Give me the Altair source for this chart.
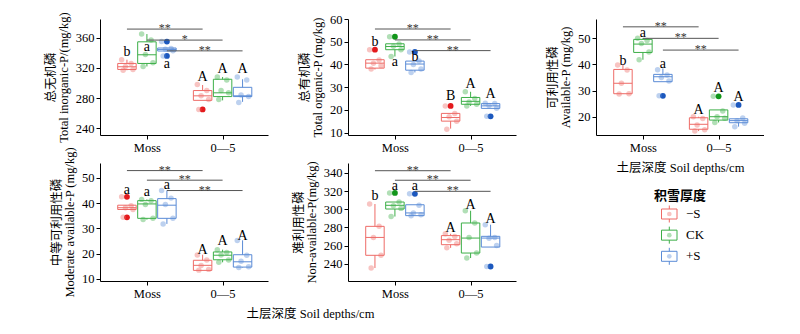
import altair as alt
import pandas as pd

GROUPS = ["−S", "CK", "+S"]
DEPTHS = ["Moss", "0—5"]
BOX_COLORS = ["#EE6B67", "#3DAF48", "#5A8BD6"]
OUT_COLORS = ["#E3191C", "#11961A", "#1C58BE"]
SERIF = "Liberation Serif, Noto Sans CJK SC"
X_TITLE = "土层深度 Soil depths/cm"
LEGEND_TITLE = "积雪厚度"

# cell order: Moss(−S, CK, +S), 0—5(−S, CK, +S)
# ---- Panel 1: total inorganic P
TIP_POINTS = [[331, 326, 322, 318, 317], [365, 357, 338, 327, 322], [355, 346, 345, 343, 336],
              [298, 290, 283, 278, 265], [308, 304, 290, 287, 278], [308, 304, 284, 282, 274]]
TIP_Q1 = [318, 326, 342.5, 277, 282, 282]
TIP_MED = [321.6, 337.5, 344.6, 283, 287, 283]
TIP_Q3 = [326, 354.7, 346.5, 290, 305, 294.3]
TIP_LO = [317, 322, 342.5, 277, 277, 275]
TIP_HI = [331, 365, 346.5, 297.4, 308, 305]
TIP_OUT = [[], [], [355, 336], [265], [], []]
TIP_LET = ["b", "a", "a", "A", "A", "A"]
TIP_LET_Y = [341.5, 348, 325, 308, 318.5, 318.5]
TIP_SIG_Y = [371.6, 357, 342.7]
TIP_SIG = ["**", "*", "**"]

# ---- Panel 2: total organic P
TOP_POINTS = [[46.5, 42, 40.5, 39.5, 38], [52.2, 49, 48, 46.5, 43.5], [45.5, 41.5, 40, 38, 36.5],
              [21.8, 18.5, 17, 15, 11.5], [28, 25, 23.5, 22.5, 21.8], [23, 22.8, 22, 20.8, 17.2]]
TOP_Q1 = [38.4, 46.5, 37.5, 15.1, 22.5, 20.7]
TOP_MED = [40.6, 47.9, 40.2, 16.7, 23.8, 21.8]
TOP_Q3 = [42.1, 49.1, 41.5, 18.5, 25.5, 22.8]
TOP_LO = [37.8, 43.5, 36.5, 11.8, 21.8, 20.7]
TOP_HI = [42.1, 49.1, 41.5, 18.5, 28, 23]
TOP_OUT = [[46.5], [52.2], [45.5], [21.8], [], [17.2]]
TOP_LET = ["b", "a", "b", "B", "A", "A"]
TOP_LET_Y = [49.8, 41, 43.2, 26.2, 31.6, 27.2]
TOP_SIG_Y = [55.6, 50.8, 46.1]
TOP_SIG = ["**", "**", "**"]

# ---- Panel 3: available P
AP_POINTS = [[39.8, 37.9, 32.8, 28.8, 28.7], [50, 49.2, 48, 44.8, 41.8], [38, 36, 35, 33.7, 28],
             [20, 19.3, 16.8, 15, 14.5], [27.8, 22.2, 20, 19.4, 17.8], [24.5, 19.5, 18.5, 17.5, 16.2]]
AP_Q1 = [28.8, 44.6, 33.4, 15.2, 18.7, 17.7]
AP_MED = [32.8, 47.8, 35.3, 17.1, 20, 18.5]
AP_Q3 = [38.1, 49.6, 36.2, 19.6, 22.6, 19.2]
AP_LO = [28.7, 41.8, 33.4, 14.5, 17.8, 16.2]
AP_HI = [39.8, 50, 38.5, 20, 22.6, 19.2]
AP_OUT = [[], [], [28], [], [27.8], [24.5]]
AP_LET = ["b", "a", "a", "A", "A", "A"]
AP_LET_Y = [41.4, 52.1, 40, 22.6, 30.9, 27.4]
AP_SIG_Y = [54.4, 50, 45.5]
AP_SIG = ["**", "**", "**"]

# ---- Panel 4: moderately available P
MAP_POINTS = [[42.5, 39, 38.2, 37.5, 34.4], [41.5, 41, 39.5, 34, 33.5], [45, 42, 39.5, 34, 31.8],
              [19.5, 17.5, 15.3, 13.8, 13.5], [21.6, 20.5, 19.5, 17.5, 16.6], [25.2, 19.4, 17, 14.8, 14.5]]
MAP_Q1 = [37.5, 34, 34, 13.4, 17.6, 14.7]
MAP_MED = [38.2, 39.7, 39.2, 15.4, 19.4, 16.8]
MAP_Q3 = [39.2, 41, 41.8, 17.4, 20.7, 19.6]
MAP_LO = [37.5, 33.5, 31.8, 13.4, 16.6, 14.5]
MAP_HI = [39.2, 41.5, 45, 19.6, 21.6, 25.3]
MAP_OUT = [[42.5, 34.4], [], [], [], [], []]
MAP_LET = ["a", "a", "a", "A", "A", "A"]
MAP_LET_Y = [45.4, 44.5, 47.1, 21.6, 25.2, 26.9]
MAP_SIG_Y = [52.9, 49.1, 45]
MAP_SIG = ["**", "**", "**"]

# ---- Panel 5: non-available P
NAP_POINTS = [[305.8, 281.2, 269, 249.3, 235.3], [318, 308, 304, 301, 292], [317, 304.5, 296, 294, 293],
              [273, 270, 266, 262, 257.5], [298.4, 284.9, 269, 251.8, 246.3], [283, 269, 268, 260, 237]]
NAP_Q1 = [249.3, 300.3, 293, 261, 251.8, 258.4]
NAP_MED = [269, 304.4, 296, 266.5, 268.3, 268.3]
NAP_Q3 = [281.2, 308, 305, 271, 284.9, 270.2]
NAP_LO = [235.3, 292, 293, 257.5, 246.3, 258.4]
NAP_HI = [305.8, 308, 305, 273, 298.4, 283]
NAP_OUT = [[], [318], [317], [], [], [237]]
NAP_LET = ["b", "a", "a", "A", "A", "A"]
NAP_LET_Y = [314.3, 325.3, 325.3, 279.4, 305, 289.6]
NAP_SIG_Y = [342.5, 332, 319.8]
NAP_SIG = ["**", "**", "**"]

CELL_D = [d for d in DEPTHS for g in GROUPS]
CELL_G = [g for d in DEPTHS for g in GROUPS]

GI = "indexof(['−S','CK','+S'], datum.group)"
DI = "indexof(['Moss','0—5'], datum.depth)"
OFF = 0.264
HW = 0.122
JIT = "[-0.07, 0.055, -0.02, 0.08, -0.05][datum.k % 5]"

COL = alt.Scale(domain=GROUPS, range=BOX_COLORS)
OCOL = alt.Scale(domain=GROUPS, range=OUT_COLORS)


def panel(points, q1, med, q3, lo, hi, outs, lets, let_y, sig_y, sig, ytitle, ydom, yticks,
          w, h, xtitle=None, xtitle_x=None):
    XS = alt.Scale(domain=[-0.62, 1.6], nice=False, zero=False)
    YS = alt.Scale(domain=ydom, nice=False, zero=False)
    box = pd.DataFrame({"depth": CELL_D, "group": CELL_G, "q1": q1, "med": med, "q3": q3,
                        "lo": lo, "hi": hi, "letter": lets, "ly": let_y})
    prow = []
    orow = []
    for d, g, vals, ov in zip(CELL_D, CELL_G, points, outs):
        for k, v in enumerate(vals):
            prow.append({"depth": d, "group": g, "value": v, "k": k})
        for v in ov:
            orow.append({"depth": d, "group": g, "value": v})
    pts = pd.DataFrame(prow)
    out = pd.DataFrame(orow)
    sg = pd.DataFrame({"group": GROUPS, "sy": sig_y, "sig": sig})

    xaxis_kw = dict(values=[0, 1], labelExpr="datum.value == 0 ? 'Moss' : '0—5'", grid=False,
                    domainColor="black", tickColor="black", tickSize=4, labelFont=SERIF,
                    labelFontSize=12.5, labelColor="black", labelPadding=2, titleFont=SERIF,
                    titleFontSize=12.5, titleFontWeight="normal", titleColor="black", titlePadding=8)
    if xtitle_x is not None:
        xaxis_kw["titleX"] = xtitle_x
    XA = alt.Axis(**xaxis_kw)
    YA = alt.Axis(values=yticks, grid=False, domainColor="black", tickColor="black", tickSize=4,
                  labelFont=SERIF, labelFontSize=12.5, labelColor="black", labelPadding=2,
                  titleFont=SERIF, titleFontSize=12.5, titleFontWeight="normal", titleColor="black",
                  titleLineHeight=13, titlePadding=5)
    xt = xtitle if xtitle else ""

    def X(f):
        return alt.X(f, scale=XS, axis=XA, title=xt)

    def Y(f):
        return alt.Y(f, scale=YS, axis=YA, title=ytitle)

    bx = alt.Chart(box).transform_calculate(
        pos=f"{DI} + ({GI} - 1) * {OFF}"
    ).transform_calculate(xl=f"datum.pos - {HW}", xr=f"datum.pos + {HW}")

    rect = bx.mark_rect(fill="white", strokeWidth=1).encode(
        x=X("xl:Q"), x2="xr:Q", y=Y("q1:Q"), y2="q3:Q",
        stroke=alt.Stroke("group:N", scale=COL, legend=None),
    )
    wup = bx.mark_rule(strokeWidth=1).encode(
        x=X("pos:Q"), y=Y("q3:Q"), y2="hi:Q",
        color=alt.Color("group:N", scale=COL, legend=None))
    wdn = bx.mark_rule(strokeWidth=1).encode(
        x=X("pos:Q"), y=Y("lo:Q"), y2="q1:Q",
        color=alt.Color("group:N", scale=COL, legend=None))
    medr = bx.mark_rule(strokeWidth=1).encode(
        x=X("xl:Q"), x2="xr:Q", y=Y("med:Q"),
        color=alt.Color("group:N", scale=COL, legend=None))
    outl = alt.Chart(out).transform_calculate(pos=f"{DI} + ({GI} - 1) * {OFF}").mark_circle(
        size=34, opacity=1).encode(
        x=X("pos:Q"), y=Y("value:Q"),
        color=alt.Color("group:N", scale=OCOL, legend=None))
    dots = alt.Chart(pts).transform_calculate(
        px=f"{DI} + ({GI} - 1) * {OFF} + {JIT}").mark_circle(size=30, opacity=0.4).encode(
        x=X("px:Q"), y=Y("value:Q"),
        color=alt.Color("group:N", scale=COL, legend=None))
    sgb = alt.Chart(sg).transform_calculate(
        off=f"({GI} - 1) * {OFF}").transform_calculate(
        sx1="datum.off", sx2="1 + datum.off", sxm="0.5 + datum.off")
    sline = sgb.mark_rule(color="#555555", strokeWidth=1).encode(
        x=X("sx1:Q"), x2="sx2:Q", y=Y("sy:Q"))
    stext = sgb.mark_text(font=SERIF, fontSize=12, color="#333333", fill="#333333",
                          baseline="alphabetic", dy=3).encode(
        x=X("sxm:Q"), y=Y("sy:Q"), text="sig:N")
    letters = bx.mark_text(font=SERIF, fontSize=14, color="black", fill="black",
                           baseline="middle").encode(
        x=X("pos:Q"), y=Y("ly:Q"), text="letter:N")
    return alt.layer(rect, wup, wdn, medr, outl, dots, sline, stext, letters).resolve_scale(
        color="independent").properties(width=w, height=h)


p1 = panel(TIP_POINTS, TIP_Q1, TIP_MED, TIP_Q3, TIP_LO, TIP_HI, TIP_OUT, TIP_LET, TIP_LET_Y,
           TIP_SIG_Y, TIP_SIG, ["总无机磷", "Total inorganic-P/(mg/kg)"], [231, 385],
           [240, 280, 320, 360], 168, 116)
p2 = panel(TOP_POINTS, TOP_Q1, TOP_MED, TOP_Q3, TOP_LO, TOP_HI, TOP_OUT, TOP_LET, TOP_LET_Y,
           TOP_SIG_Y, TOP_SIG, ["总有机磷", "Total organic-P (mg/kg)"], [9, 60],
           [10, 20, 30, 40, 50, 60], 168, 116)
p3 = panel(AP_POINTS, AP_Q1, AP_MED, AP_Q3, AP_LO, AP_HI, AP_OUT, AP_LET, AP_LET_Y,
           AP_SIG_Y, AP_SIG, ["可利用性磷", "Available-P (mg/kg)"], [13, 57.4],
           [20, 30, 40, 50], 168, 116, xtitle=X_TITLE)
p4 = panel(MAP_POINTS, MAP_Q1, MAP_MED, MAP_Q3, MAP_LO, MAP_HI, MAP_OUT, MAP_LET, MAP_LET_Y,
           MAP_SIG_Y, MAP_SIG, ["中等可利用性磷", "Moderate available-P (mg/kg)"], [9.2, 55.9],
           [10, 20, 30, 40, 50], 168, 118, xtitle=X_TITLE, xtitle_x=210)
p5 = panel(NAP_POINTS, NAP_Q1, NAP_MED, NAP_Q3, NAP_LO, NAP_HI, NAP_OUT, NAP_LET, NAP_LET_Y,
           NAP_SIG_Y, NAP_SIG, ["难利用性磷", "Non-available-P(mg/kg)"], [221, 351],
           [240, 260, 280, 300, 320, 340], 168, 118)

# ---- legend cell (drawn from the group list)
LXS = alt.Scale(domain=[0, 168], range=[0, 168], nice=False, zero=False)
LYS = alt.Scale(domain=[118, 0], nice=False, zero=False)
lg = alt.Chart(pd.DataFrame({"group": GROUPS})).transform_calculate(
    cy=f"51 + {GI} * 21.15").transform_calculate(
    b0="datum.cy - 5", b1="datum.cy + 5", w0="datum.cy - 8.5", w1="datum.cy + 8.5",
    x0="65.5", x1="81", xc="73.3", xt="90")
l_wh = lg.mark_rule(strokeWidth=1).encode(
    x=alt.X("xc:Q", scale=LXS, axis=None), y=alt.Y("w0:Q", scale=LYS, axis=None), y2="w1:Q",
    color=alt.Color("group:N", scale=COL, legend=None))
l_box = lg.mark_rect(fill="white", strokeWidth=1).encode(
    x=alt.X("x0:Q", scale=LXS, axis=None), x2="x1:Q",
    y=alt.Y("b0:Q", scale=LYS, axis=None), y2="b1:Q",
    stroke=alt.Stroke("group:N", scale=COL, legend=None))
l_dot = lg.mark_circle(size=22, opacity=0.4).encode(
    x=alt.X("xc:Q", scale=LXS, axis=None), y=alt.Y("cy:Q", scale=LYS, axis=None),
    color=alt.Color("group:N", scale=COL, legend=None))
l_txt = lg.mark_text(font=SERIF, fontSize=13, align="left", baseline="middle", color="black").encode(
    x=alt.X("xt:Q", scale=LXS, axis=None), y=alt.Y("cy:Q", scale=LYS, axis=None), text="group:N")
l_title = alt.Chart(pd.DataFrame({"t": [LEGEND_TITLE]})).mark_text(
    font=SERIF, fontSize=13, fontWeight="bold", color="black", baseline="middle").encode(
    x=alt.value(84), y=alt.value(33), text="t:N")
legend = alt.layer(l_wh, l_box, l_dot, l_txt, l_title).properties(width=168, height=118)

chart = alt.concat(p1, p2, p3, p4, p5, legend, columns=3,
                   spacing={"row": 28, "column": 80}).properties(
    bounds="flush", padding={"left": 44, "top": 11, "right": 0, "bottom": 0}
).configure(font=SERIF).configure_view(stroke=None)

chart.save("out.html", embed_options={"renderer": "svg", "actions": False})
